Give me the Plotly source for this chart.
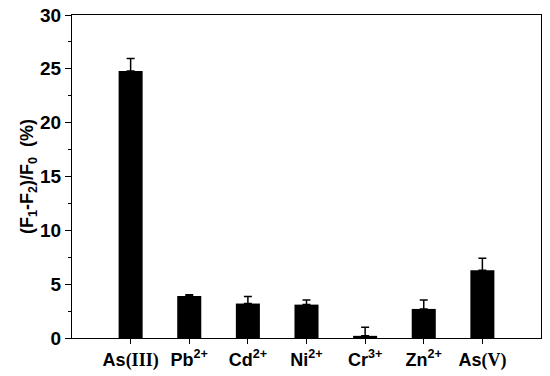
import plotly.graph_objects as go

categories = ["As<span style='font-family:Liberation Serif,Times New Roman'>(III)</span>",
              "Pb<sup>2+</sup>", "Cd<sup>2+</sup>", "Ni<sup>2+</sup>", "Cr<sup>3+</sup>",
              "Zn<sup>2+</sup>",
              "As<span style='font-family:Liberation Serif,Times New Roman'>(V)</span>"]
values = [24.8, 3.9, 3.2, 3.1, 0.2, 2.7, 6.3]
errors = [1.15, 0.12, 0.65, 0.43, 0.8, 0.84, 1.1]

xpos = list(range(len(categories)))

fig = go.Figure()
fig.add_trace(go.Bar(
    x=xpos, y=values, width=0.41,
    marker=dict(color="black", line=dict(width=0)),
    error_y=dict(type="data", array=errors, symmetric=False, arrayminus=[0]*len(errors),
                 color="black", thickness=1.5, width=4, visible=True),
))

fam = "Liberation Sans, Arial, sans-serif"
fig.update_layout(
    width=550, height=376,
    margin=dict(l=72, r=9, t=15, b=38, autoexpand=False),
    paper_bgcolor="white", plot_bgcolor="white",
    showlegend=False,
    font=dict(family=fam, color="black"),
    xaxis=dict(
        range=[-1, 7], tickmode="array", tickvals=xpos, ticktext=categories,
        ticks="outside", ticklen=5, tickwidth=1, tickcolor="black",
        showline=True, linecolor="black", linewidth=1, mirror=True,
        showgrid=False, zeroline=False, automargin=False,
        tickfont=dict(size=18, family=fam, weight="bold"),
    ),
    yaxis=dict(
        range=[0, 30], tickmode="linear", tick0=0, dtick=5,
        ticks="outside", ticklen=6, tickwidth=1, tickcolor="black",
        minor=dict(ticks="outside", dtick=2.5, ticklen=3, tickcolor="black"),
        showline=True, linecolor="black", linewidth=1, mirror=True,
        showgrid=False, zeroline=False, automargin=False,
        tickfont=dict(size=19, family=fam, weight="bold"),
        title=dict(text="(F<sub>1</sub>-F<sub>2</sub>)/F<sub>0</sub>  (%)",
                   font=dict(size=18, family=fam, weight="bold"), standoff=1),
        tickformat="d",
    ),
)
fig.write_html("out.html", config={"displayModeBar": False},
               post_script="document.body.style.margin='0';document.body.style.padding='0';")
